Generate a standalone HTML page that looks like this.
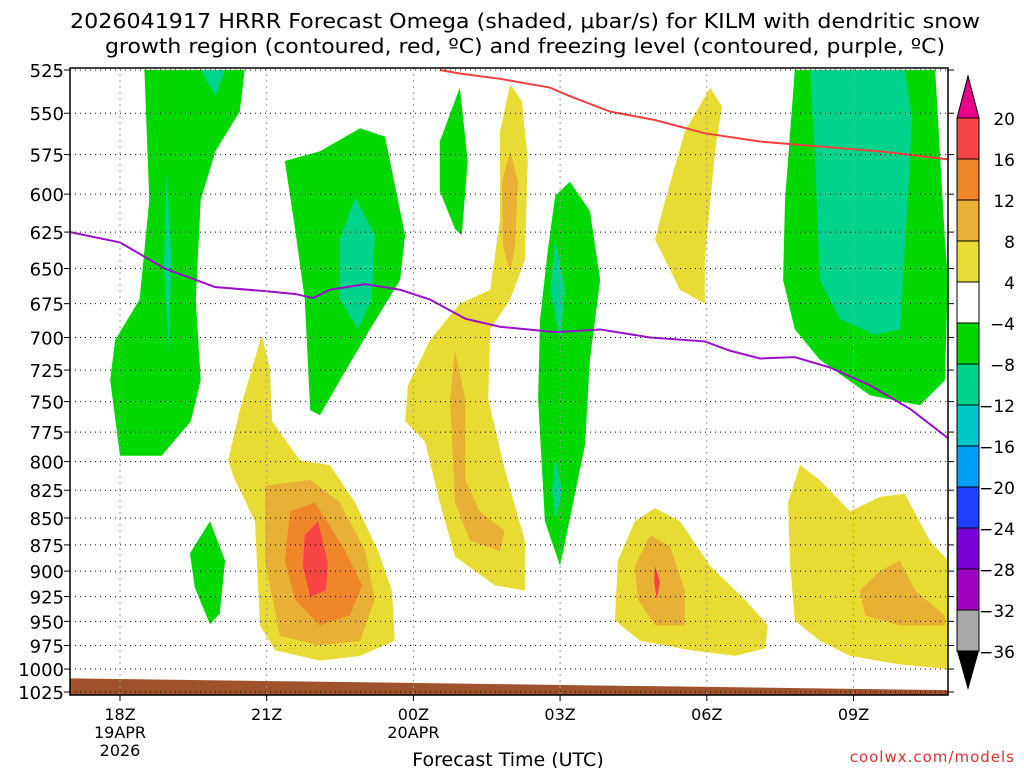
<!DOCTYPE html>
<html><head><meta charset="utf-8"><style>
body{margin:0;background:#fff;width:1024px;height:768px;overflow:hidden}
svg{font-family:"DejaVu Sans","Liberation Sans",sans-serif}
</style></head><body>
<svg id="chart" width="1024" height="768" viewBox="0 0 1024 768">
<text x="525" y="28" font-size="20" text-anchor="middle" textLength="910" lengthAdjust="spacingAndGlyphs">2026041917 HRRR Forecast Omega (shaded, μbar/s) for KILM with dendritic snow</text>
<text x="525" y="53" font-size="20" text-anchor="middle" textLength="840" lengthAdjust="spacingAndGlyphs">growth region (contoured, red, ºC) and freezing level (contoured, purple, ºC)</text>
<g id="fills"></g><g id="lines"></g><g id="grid"></g><g id="axes"></g><g id="cbar"></g>
<text x="508" y="766" font-size="19" text-anchor="middle">Forecast Time (UTC)</text>
<text x="1015" y="762" font-size="15" fill="#e03030" text-anchor="end" letter-spacing="1">coolwx.com/models</text>
</svg>
<script>
const pressureTicks=[525,550,575,600,625,650,675,700,725,750,775,800,825,850,875,900,925,950,975,1000,1025];
const hourTicks=[0,3,6,9,12,15];
const hourLabels=[["18Z","19APR","2026"],["21Z"],["00Z","20APR"],["03Z"],["06Z"],["09Z"]];
const cbarLevels=["20","16","12","8","4","−4","−8","−12","−16","−20","−24","−28","−32","−36"];
const cbarColors=["#f84444","#f0862a","#e8b034","#e8dc34","#ffffff","#00d800","#00d48c","#00c8c8","#00a0f8","#2040ff","#7800d8","#a000c0","#a8a8a8"];
const freezeH=[-1.02,0,0.92,1.94,2.97,3.58,3.95,4.29,5.01,5.73,6.34,7.06,7.77,8.9,9.82,10.84,11.96,12.47,13.09,13.8,14.52,15.34,16.16,16.93];
const freezeP=[625,632,650,663,666,668,671,665,661,665,672,686,692,696,694,700,703,710,716,715,723,737,756,780];
const dgzH=[6.54,6.95,7.77,8.79,9.2,10.02,10.94,11.96,13.09,14.31,15.54,16.93];
const dgzP=[525,527,530,535,540,549,554,562,567,570,573,578];
const surfaceH=[-1.1,17.0];
const surfaceP=[1010,1023];
const regions=[
[5,[[0.5,525],[2.55,525],[2.45,549],[1.95,573],[1.65,604],[1.55,672],[1.65,733],[1.45,766],[0.85,795],[0,795],[-0.2,733],[-0.1,702],[0.4,672],[0.6,604]]],
[6,[[0.95,585],[1.05,640],[1.0,710],[0.9,650]]],
[6,[[1.65,525],[2.15,525],[1.95,540]]],
[5,[[3.37,579],[4.09,573],[4.91,559],[5.42,564],[5.83,627],[5.73,658],[5.11,694],[4.5,733],[4.09,761],[3.89,757],[3.78,672],[3.58,623]]],
[6,[[4.81,602],[5.21,627],[5.15,672],[4.87,694],[4.5,672],[4.5,630]]],
[5,[[1.43,883],[1.84,853],[2.15,890],[2.04,942],[1.84,953],[1.53,916]]],
[5,[[6.54,567],[6.95,535],[7.11,579],[6.99,627],[6.85,623],[6.54,598]]],
[5,[[8.9,601],[9.2,592],[9.61,611],[9.82,658],[9.61,717],[9.51,786],[9.0,895],[8.69,853],[8.55,748],[8.59,686],[8.75,637]]],
[6,[[8.9,630],[9.1,665],[9.0,702],[8.8,665]]],
[6,[[8.9,795],[9.04,826],[8.9,853],[8.84,826]]],
[5,[[13.8,525],[16.67,525],[16.87,630],[16.93,658],[16.87,733],[16.36,753],[15.34,745],[14.31,717],[13.8,694],[13.56,658],[13.6,604]]],
[6,[[14.11,525],[16.05,525],[16.2,554],[16.05,637],[15.95,694],[15.44,698],[14.72,686],[14.31,658],[14.21,573]]],
[3,[[2.9,698],[3.07,725],[3.11,766],[3.68,799],[4.29,803],[4.81,836],[5.28,881],[5.56,919],[5.62,970],[4.91,986],[4.09,991],[3.17,980],[2.86,954],[2.76,853],[2.35,816],[2.21,799],[2.45,757]]],
[2,[[2.97,821],[3.89,816],[4.5,836],[5.01,880],[5.21,928],[4.91,970],[4.09,975],[3.27,965],[2.97,892]]],
[1,[[3.48,844],[3.99,836],[4.6,880],[4.95,914],[4.7,944],[4.09,954],[3.58,928],[3.37,890]]],
[0,[[3.78,866],[4.05,853],[4.25,892],[4.21,919],[3.89,925],[3.74,895]]],
[3,[[7.98,533],[8.22,543],[8.34,579],[8.28,644],[7.98,672],[7.57,694],[7.53,748],[7.87,807],[8.28,871],[8.28,919],[7.67,914],[6.85,886],[6.54,836],[6.24,783],[5.83,766],[5.89,737],[6.34,702],[6.95,675],[7.57,665],[7.77,616],[7.77,561]]],
[2,[[7.98,573],[8.14,592],[8.08,634],[7.98,653],[7.83,634],[7.81,592]]],
[2,[[6.85,710],[7.06,748],[7.06,816],[7.36,844],[7.87,862],[7.77,881],[7.16,871],[6.85,836],[6.75,748]]],
[3,[[12.07,535],[12.31,546],[12.17,573],[11.96,644],[11.96,675],[11.45,665],[10.94,630],[11.15,604],[11.55,561]]],
[3,[[10.94,841],[11.45,853],[12.07,895],[12.78,928],[13.25,954],[13.19,978],[12.58,986],[11.66,980],[10.63,970],[10.12,949],[10.18,890],[10.53,853]]],
[2,[[10.84,866],[11.25,876],[11.55,919],[11.55,954],[10.94,954],[10.59,928],[10.53,895]]],
[0,[[10.94,895],[11.04,910],[10.98,928],[10.92,910]]],
[3,[[13.91,803],[14.31,816],[14.93,844],[15.54,831],[16.05,828],[16.56,871],[16.93,890],[16.93,1000],[15.95,995],[14.93,986],[14.31,970],[13.8,949],[13.7,890],[13.66,836]]],
[2,[[15.54,900],[15.95,890],[16.26,919],[16.87,944],[16.87,954],[15.95,954],[15.24,944],[15.13,919]]]
];
const NS="http://www.w3.org/2000/svg";
const L=70,R=948,T=68,B=695;
const X=h=>120+h*48.9;
const lnA=Math.log(525),lnB=Math.log(1025);
const Y=p=>70+(Math.log(p)-lnA)/(lnB-lnA)*622;
function mk(tag,attrs,parent){const e=document.createElementNS(NS,tag);for(const k in attrs)e.setAttribute(k,attrs[k]);parent.appendChild(e);return e;}
const svg=document.getElementById('chart');
const defs=mk('defs',{},svg);
const cp=mk('clipPath',{id:'plotclip'},defs);
mk('rect',{x:L,y:T,width:R-L,height:B-T},cp);
const fills=document.getElementById('fills');fills.setAttribute('clip-path','url(#plotclip)');
regions.forEach((r,i)=>{
  const pts=r[1].map(q=>X(q[0]).toFixed(1)+','+Y(q[1]).toFixed(1)).join(' ');
  const e=mk('polygon',{points:pts,fill:cbarColors[r[0]],'stroke-linejoin':'round'},fills);
  
  
});
const lines=document.getElementById('lines');lines.setAttribute('clip-path','url(#plotclip)');
const fz=mk('polyline',{points:freezeH.map((h,i)=>X(h)+','+Y(freezeP[i])).join(' '),fill:'none',stroke:'#9a10c8','stroke-width':2},lines);


const dg=mk('polyline',{points:dgzH.map((h,i)=>X(h)+','+Y(dgzP[i])).join(' '),fill:'none',stroke:'#f04040','stroke-width':2},lines);


const gnd=mk('polygon',{points:`${X(surfaceH[0])},${Y(surfaceP[0])} ${X(surfaceH[1])},${Y(surfaceP[1])} ${X(surfaceH[1])},${B} ${X(surfaceH[0])},${B}`,fill:'#a0522d'},lines);


const grid=document.getElementById('grid');
pressureTicks.forEach(p=>{
  const g=mk('line',{x1:L,x2:R,y1:Y(p),y2:Y(p),stroke:'#000','stroke-width':1,'stroke-dasharray':'1,4'},grid);
  
  
});
hourTicks.forEach(h=>{
  const g=mk('line',{x1:X(h),x2:X(h),y1:T,y2:B,stroke:'#999','stroke-width':1,'stroke-dasharray':'2,4'},grid);
  
  
});
const ax=document.getElementById('axes');
const fr=mk('rect',{x:L,y:T,width:R-L,height:B-T,fill:'none',stroke:'#000','stroke-width':1.5},ax);


pressureTicks.forEach(p=>{
  mk('line',{x1:L-6,x2:L,y1:Y(p),y2:Y(p),stroke:'#000'},ax);
  mk('line',{x1:R,x2:R+6,y1:Y(p),y2:Y(p),stroke:'#000'},ax);
  const t=mk('text',{x:L-6,y:Y(p)+7,'font-size':18,'text-anchor':'end'},ax);t.textContent=p;
  
  
});
hourTicks.forEach((h,i)=>{
  mk('line',{x1:X(h),x2:X(h),y1:B,y2:B+6,stroke:'#000'},ax);
  hourLabels[i].forEach((s,j)=>{
    const t=mk('text',{x:X(h),y:720+j*18,'font-size':16,'text-anchor':'middle'},ax);t.textContent=s;
    
    
  });
});
const cb=document.getElementById('cbar');
const cx=957,cw=22,c0=118,ch=41;
const tp=mk('polygon',{points:`${cx},${c0} ${cx+cw},${c0} ${cx+cw/2},76`,fill:'#e8008a',stroke:'#000'},cb);


cbarColors.forEach((c,i)=>{
  const r=mk('rect',{x:cx,y:c0+i*ch,width:cw,height:ch,fill:c,stroke:'#000'},cb);
  
  
});
const bt=c0+cbarColors.length*ch;
const ba=mk('polygon',{points:`${cx},${bt} ${cx+cw},${bt} ${cx+cw/2},690`,fill:'#000'},cb);


cbarLevels.forEach((s,i)=>{
  const t=mk('text',{x:1015,y:c0+i*ch+7,'font-size':17,'text-anchor':'end'},cb);t.textContent=s;
  
  
});
</script>
</body></html>
